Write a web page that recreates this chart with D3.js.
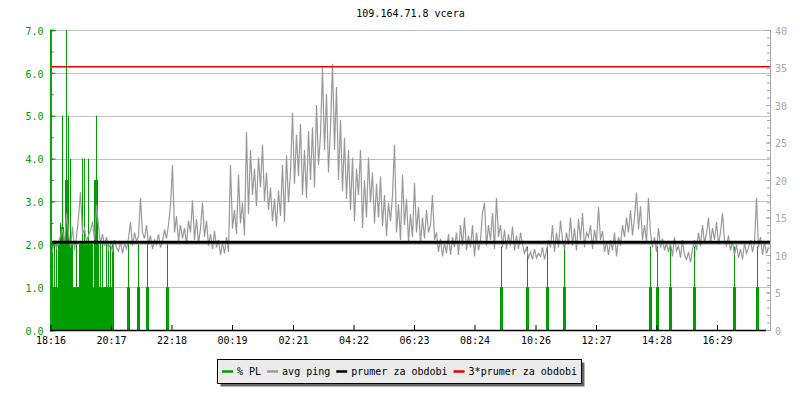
<!DOCTYPE html>
<html><head><meta charset="utf-8">
<script src="https://cdn.jsdelivr.net/npm/d3@7"></script>
<style>
body{margin:0;background:#fff}
svg text{font-family:"DejaVu Sans Mono",monospace;font-size:10px}
</style>
</head><body>
<svg id="chart" width="800" height="400"></svg>
<script>
// ---------- data ----------
const titleText = "109.164.71.8 vcera";
const startHour = 18, startMinute = 16;
const spanMinutes = 1440;
const tickLabels = ["18:16","20:17","22:18","00:19","02:21","04:22","06:23","08:24","10:26","12:27","14:28","16:29"];
const leftTicks = [0,1,2,3,4,5,6,7];
const rightTicks = [0,5,10,15,20,25,30,35,40];
const pingStepMinutes = 4;
const pingValues = [
11.2,10.5,12.0,10.8,11.8,12.5,13.5,11.5,15.6,12.8,
11.0,13.8,10.6,12.4,15.0,18.4,12.8,13.5,11.8,12.6,
13.2,14.5,12.0,16.7,13.8,11.5,12.8,11.2,12.4,10.8,
11.5,10.4,12.0,11.0,10.5,11.8,10.2,11.6,10.8,12.2,
14.4,11.2,13.0,11.8,12.5,17.6,13.0,12.2,14.0,11.4,
12.6,10.8,12.0,11.4,12.8,11.0,11.8,13.4,12.2,14.0,
16.7,22.0,13.0,15.2,11.8,14.0,12.2,13.6,11.4,14.6,
13.0,17.3,12.0,14.8,11.6,13.5,17.0,12.4,14.6,11.2,
12.8,10.8,13.2,11.0,12.0,10.0,11.6,10.2,12.4,10.4,
22.0,13.5,16.0,12.8,20.7,14.2,17.0,12.6,26.4,15.5,
24.0,18.0,21.5,16.5,23.0,19.0,24.7,17.2,21.0,16.0,
19.0,14.5,17.5,13.8,18.6,15.2,22.0,14.4,23.3,17.0,
21.0,29.0,19.5,26.0,20.5,27.5,18.0,24.0,17.6,26.5,
20.0,27.0,19.0,30.0,22.0,26.0,35.0,24.0,31.5,21.0,
27.0,35.5,24.0,32.4,20.0,28.0,18.5,25.6,17.5,24.0,
16.0,23.0,14.5,21.5,18.0,24.0,13.6,20.0,15.0,23.0,
17.0,21.0,14.2,19.5,15.0,20.5,13.8,18.0,12.5,17.0,
14.5,18.0,24.7,13.0,16.8,12.0,20.7,14.0,17.5,11.8,
15.5,12.4,19.6,13.0,16.4,11.6,15.0,12.2,16.0,13.0,
14.0,18.0,12.0,13.0,10.4,12.2,9.8,11.6,10.2,12.8,
10.0,12.4,11.0,13.0,10.0,14.0,11.2,15.0,10.6,12.6,
11.0,14.0,9.8,13.0,10.6,12.0,15.6,17.0,11.2,14.0,
12.0,15.6,10.8,17.6,12.4,14.0,11.0,13.4,10.8,12.8,
11.2,13.8,10.6,12.6,10.8,13.0,11.4,10.2,11.0,9.6,
10.4,9.4,10.8,9.6,10.2,9.8,11.0,9.4,10.6,12.0,
11.0,14.0,10.4,13.0,11.0,14.6,12.0,10.8,13.0,11.4,
15.0,11.2,13.6,10.6,14.8,12.0,15.6,11.0,13.0,12.4,
14.0,10.8,13.4,11.6,16.4,12.0,13.2,10.4,11.8,10.0,
12.0,10.6,13.0,9.8,12.4,11.2,14.0,12.4,15.0,13.0,
16.0,12.6,15.0,18.3,13.4,16.5,12.0,14.0,11.8,17.6,
13.0,11.0,12.4,10.4,13.6,11.0,12.2,10.6,11.6,10.4,
11.6,9.8,12.4,10.6,11.2,9.6,12.0,10.0,9.4,10.4,
9.0,10.8,12.0,10.6,13.0,11.2,14.0,11.6,12.8,15.0,
11.6,13.6,12.0,14.4,11.4,13.0,15.6,12.0,11.2,12.6,
10.6,11.8,10.0,11.4,9.6,10.8,9.4,11.6,10.2,11.0,
12.0,10.4,11.6,17.6,11.0,12.4,10.0,11.8,10.2,11.0
];
const meanPing = 11.7;
const meanFactor = 3;
const plMinutes = [2,6,10,14,18,22,26,30,34,38,42,46,50,54,58,62,66,70,74,78,82,86,90,94,98,102,106,110,114,118,122,126,
  155,175,193,233, 901,953,993,1027,1199,1213,1239,1287,1367,1413];
const plBar = [0,1,1,0,2,2.4,2,3.5,2,2,1,0,1,1,2,2,1,2,1,2,1,1,3.5,1,1,1,1,1,1,1,1,0,
  1,1,1,1, 1,1,1,1,1,1,1,1,1,1];
const plPeak = [2,2,2,2,2.5,5,2.4,7,5,4,2,1,2,1,2,4,4,2,4,2,2,3.5,5,2,2,2,1,2,2,2,2,2,
  2,2,2,2, 1.95,1.95,1.95,1.95,1.95,1.95,1.95,1.95,1.95,1.95];
const legendLabels = ["% PL","avg ping","prumer za obdobi","3*prumer za obdobi"];
const legendColors = ["#009c00","#999999","#000000","#e00000"];

// ---------- drawing ----------
const svg = d3.select("#chart");
const plotL = 50.5, plotR = 770.5, plotT = 30, plotB = 330;
const start = new Date(2013,0,1,startHour,startMinute);
const end = d3.timeMinute.offset(start, spanMinutes);
const x = d3.scaleTime().domain([start,end]).range([plotL,plotR]);
const yL = d3.scaleLinear().domain([0,7]).range([plotB,plotT]);
const yR = d3.scaleLinear().domain([0,40]).range([plotB,plotT]);
const green = legendColors[0];

function labelToDate(s){
  const [h,m] = s.split(":").map(Number);
  let off = (h*60+m) - (startHour*60+startMinute);
  if (off < 0) off += 1440;
  return d3.timeMinute.offset(start, off);
}

// title
svg.append("text").attr("x",(plotL+plotR)/2).attr("y",17).attr("text-anchor","middle").text(titleText);

// grid lines
svg.append("g").selectAll("line").data(leftTicks).join("line")
  .attr("x1",plotL).attr("x2",plotR)
  .attr("y1",d=>Math.round(yL(d))+0.5).attr("y2",d=>Math.round(yL(d))+0.5)
  .attr("stroke","#c0c0c0").attr("stroke-width",1);

// PL bars and peaks
const plData = plMinutes.map((m,i)=>({t:d3.timeMinute.offset(start,m), bar:plBar[i], peak:plPeak[i]}));
const gpl = svg.append("g");
gpl.selectAll("line").data(plData).join("line")
  .attr("x1",d=>Math.round(x(d.t))+0.5).attr("x2",d=>Math.round(x(d.t))+0.5)
  .attr("y1",yL(0)).attr("y2",d=>yL(d.peak))
  .attr("stroke",green).attr("stroke-width",1);
gpl.selectAll("rect").data(plData.filter(d=>d.bar>0)).join("rect")
  .attr("x",d=>Math.round(x(d.t))-1).attr("width",3)
  .attr("y",d=>yL(d.bar)).attr("height",d=>yL(0)-yL(d.bar))
  .attr("fill",green);

// ping line
const pingData = pingValues.map((v,i)=>({t:d3.timeMinute.offset(start,i*pingStepMinutes), v}));
svg.append("path").datum(pingData)
  .attr("d", d3.line().x(d=>x(d.t)).y(d=>yR(d.v)))
  .attr("fill","none").attr("stroke",legendColors[1]).attr("stroke-width",1.2);

// mean lines
svg.append("line").attr("x1",plotL).attr("x2",plotR)
  .attr("y1",yR(meanPing)).attr("y2",yR(meanPing))
  .attr("stroke","#000").attr("stroke-width",2.8);
svg.append("line").attr("x1",plotL).attr("x2",plotR)
  .attr("y1",yR(meanPing*meanFactor)).attr("y2",yR(meanPing*meanFactor))
  .attr("stroke",legendColors[3]).attr("stroke-width",1.5);

// left axis
const leftMinor = d3.range(0,7.01,0.5);
const gLeft = svg.append("g").attr("transform",`translate(${plotL},0)`);
gLeft.call(d3.axisLeft(yL).tickValues(leftMinor).tickSize(-3).tickFormat(""));
gLeft.append("g").call(d3.axisLeft(yL).tickValues(leftTicks).tickSize(-5).tickPadding(7).tickFormat(d3.format(".1f")));
gLeft.selectAll("path,line").attr("stroke",green);
gLeft.selectAll("path").attr("stroke-width",1.5);
gLeft.selectAll("text").attr("fill",green).attr("dy","0.42em").style("font-family","DejaVu Sans Mono").style("font-size","10px");

// right axis
const rightMinor = d3.range(0,40.1,1);
const gRight = svg.append("g").attr("transform",`translate(${plotR-0.5},0)`);
gRight.call(d3.axisRight(yR).tickValues(rightMinor).tickSize(-3).tickFormat(""));
gRight.append("g").call(d3.axisRight(yR).tickValues(rightTicks).tickSize(-4).tickPadding(5).tickFormat(d3.format("d")));
gRight.selectAll("path,line").attr("stroke","#a8a8a8");
gRight.selectAll("text").attr("fill","#a8a8a8").attr("dy","0.42em").style("font-family","DejaVu Sans Mono").style("font-size","10px");

// bottom axis
const tickDates = tickLabels.map(labelToDate);
const gBottom = svg.append("g").attr("transform",`translate(0,${plotB})`);
gBottom.call(d3.axisBottom(x).tickValues(tickDates).tickSize(-5).tickPadding(7).tickFormat((d,i)=>tickLabels[i]));
gBottom.select(".domain").remove();
gBottom.selectAll("line").attr("stroke","#000");
gBottom.selectAll("text").attr("fill","#000").style("font-family","DejaVu Sans Mono").style("font-size","10px");
gBottom.append("line").attr("x1",plotL-0.5).attr("x2",766).attr("y1",0.5).attr("y2",0.5).attr("stroke","#000").attr("stroke-width",1.5);

// legend
const lg = svg.append("g");
const shadow = lg.append("rect").attr("fill","#666");
const box = lg.append("rect").attr("fill","#ebebeb").attr("stroke","#000").attr("stroke-width",1);
let cx = 0;
const items = lg.append("g");
legendLabels.forEach((lab,i)=>{
  items.append("line").attr("x1",cx).attr("x2",cx+11).attr("y1",0).attr("y2",0)
    .attr("stroke",legendColors[i]).attr("stroke-width",2.5);
  const t = items.append("text").attr("x",cx+15).attr("y",3.5).text(lab);
  cx += 15 + t.node().getComputedTextLength() + 6;
});
const contentW = cx - 6;
const boxW = contentW + 9;
const boxX = Math.round(400 - boxW/2) - 0.5;
const boxY = 359.5, boxH = 24;
items.attr("transform",`translate(${boxX+4.5},${boxY+12})`);
box.attr("x",boxX).attr("y",boxY).attr("width",boxW).attr("height",boxH);
shadow.attr("x",boxX+3).attr("y",boxY+3).attr("width",boxW).attr("height",boxH);
</script>
</body></html>
